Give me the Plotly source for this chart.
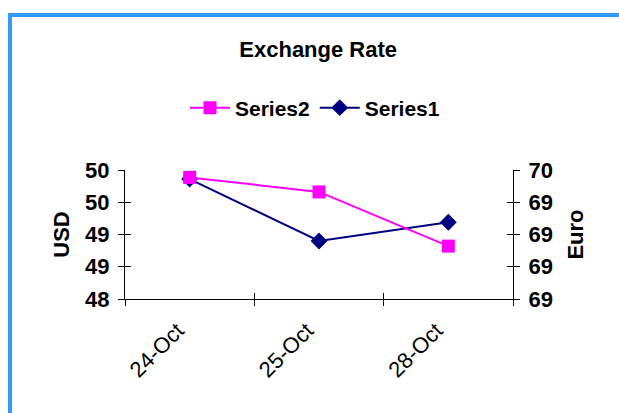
import plotly.graph_objects as go

# Exchange rate data
dates = ["24-Oct", "25-Oct", "28-Oct"]
usd_series1 = [49.86, 48.90, 49.19]      # Series1, left axis (USD)
euro_series2 = [69.477, 69.432, 69.264]  # Series2, right axis (Euro)

usd_ticks = [48, 48.5, 49, 49.5, 50]
usd_labels = ["48", "49", "49", "50", "50"]
euro_ticks = [69.1, 69.2, 69.3, 69.4, 69.5]
euro_labels = ["69", "69", "69", "69", "70"]

W, H = 619, 413
L, R, T, B = 125, 513, 170, 299   # plot area in pixels

def px_x(x):
    return (x - L) / (R - L)

def px_y(y):
    return (B - y) / (B - T)

FONT = "Liberation Sans, Arial, sans-serif"
BLUE = "#3399FF"
MAGENTA = "#FF00FF"
NAVY = "#000080"

fig = go.Figure()
fig.add_trace(go.Scatter(
    x=dates, y=euro_series2, name="Series2", yaxis="y2",
    mode="lines+markers",
    line=dict(color=MAGENTA, width=2),
    marker=dict(symbol="square", size=13, color=MAGENTA),
))
fig.add_trace(go.Scatter(
    x=dates, y=usd_series1, name="Series1", yaxis="y",
    mode="lines+markers",
    line=dict(color=NAVY, width=2),
    marker=dict(symbol="diamond", size=13, color=NAVY),
))

tickfont = dict(family=FONT, size=22, color="black", weight="bold")
titlefont = dict(family=FONT, size=22, color="black", weight="bold")

fig.update_layout(
    width=W, height=H,
    margin=dict(l=L, r=W - R, t=T, b=H - B),
    paper_bgcolor="white", plot_bgcolor="white",
    showlegend=True,
    title=dict(text="Exchange Rate", x=0.514, xanchor="center",
               y=1 - 49 / H, yanchor="middle",
               font=dict(family=FONT, size=22, color="black", weight="bold")),
    legend=dict(orientation="h", x=px_x(315), xanchor="center",
                y=px_y(108), yanchor="middle",
                font=dict(family=FONT, size=21, color="black", weight="bold"),
                itemwidth=40, traceorder="normal"),
    xaxis=dict(type="category", range=[-0.5, 2.5], tickson="boundaries",
               ticks="outside", ticklen=6, tickcolor="black",
               showline=True, linecolor="black", linewidth=1,
               showgrid=False, zeroline=False, tickangle=-45,
               ticklabelstandoff=9, ticklabelshift=-12,
               tickfont=dict(family=FONT, size=22, color="black")),
    xaxis2=dict(overlaying="x", range=[-0.5, 2.5], tick0=-0.5, dtick=1,
                ticks="inside", ticklen=6, tickcolor="black",
                showticklabels=False, showline=False, showgrid=False,
                zeroline=False, side="bottom", anchor="y"),
    yaxis=dict(range=[48, 50], tickvals=usd_ticks, ticktext=usd_labels,
               ticks="outside", ticklen=6, tickcolor="black",
               ticklabelstandoff=4,
               showline=True, linecolor="black", linewidth=1,
               showgrid=False, zeroline=False, tickfont=tickfont,
               title=dict(text="USD", standoff=9, font=titlefont)),
    yaxis2=dict(range=[69.1, 69.5], tickvals=euro_ticks, ticktext=euro_labels,
                overlaying="y", side="right", anchor="x",
                ticks="outside", ticklen=6, tickcolor="black",
                ticklabelstandoff=4,
                showline=True, linecolor="black", linewidth=1,
                showgrid=False, zeroline=False, tickfont=tickfont,
                title=dict(text="Euro", standoff=15, font=titlefont)),
    yaxis3=dict(range=[48, 50], tickvals=usd_ticks, overlaying="y",
                side="left", anchor="x", ticks="inside", ticklen=6,
                tickcolor="black", showticklabels=False, showline=False,
                showgrid=False, zeroline=False),
    yaxis4=dict(range=[69.1, 69.5], tickvals=euro_ticks, overlaying="y",
                side="right", anchor="x", ticks="inside", ticklen=6,
                tickcolor="black", showticklabels=False, showline=False,
                showgrid=False, zeroline=False),
)

# Empty traces so the inward tick overlays are rendered
fig.add_trace(go.Scatter(x=[None], y=[None], xaxis="x2", yaxis="y3",
                         showlegend=False, hoverinfo="skip"))
fig.add_trace(go.Scatter(x=[None], y=[None], xaxis="x", yaxis="y4",
                         showlegend=False, hoverinfo="skip"))

# Blue frame along the top and left edges of the chart area
fig.add_shape(type="line", xref="paper", yref="paper",
              x0=px_x(8), x1=px_x(W + 5), y0=px_y(15), y1=px_y(15),
              line=dict(color=BLUE, width=4))
fig.add_shape(type="line", xref="paper", yref="paper",
              x0=px_x(10), x1=px_x(10), y0=px_y(13), y1=px_y(H + 5),
              line=dict(color=BLUE, width=4))

fig.write_html("out.html")
